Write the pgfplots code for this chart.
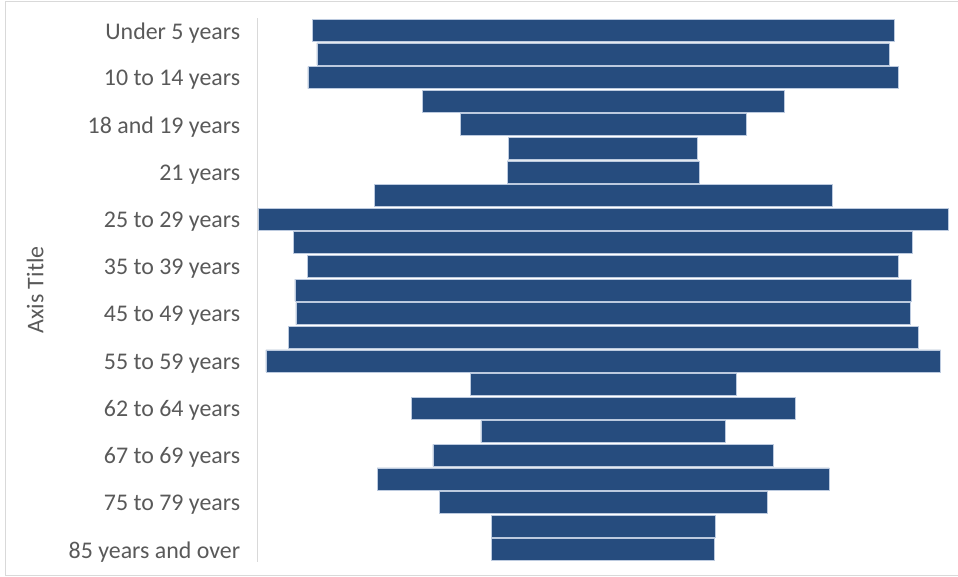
\documentclass[border=0pt]{standalone}
\usepackage{fontspec}
\setmainfont{Carlito}
\usepackage{pgfplots}
\pgfplotsset{compat=1.18}
\usepackage{pgfplotstable}

\definecolor{barblue}{HTML}{264C7E}
\definecolor{baredge}{HTML}{BCCADF}
\definecolor{labelgray}{HTML}{595959}
\definecolor{axisgray}{HTML}{D9D9D9}
\definecolor{framegray}{HTML}{D9D9D9}

% population by age group (millions); each bar is centred in the plot
\pgfplotstableread{
idx size
1  19.39
2  19.09
3  19.69
4  12.05
5  9.51
6  6.30
7  6.40
8  15.28
9  22.99
10 20.63
11 19.70
12 20.55
13 20.49
14 21.00
15 22.49
16 8.85
17 12.78
18 8.15
19 11.35
20 15.07
21 10.91
22 7.45
23 7.43
}\agedata

\newcommand{\fullspan}{23.06}
\newcommand{\labelfont}{\fontsize{23.9}{28}\selectfont}

\begin{document}
\begin{tikzpicture}
\useasboundingbox (0pt,0pt) rectangle (958pt,577pt);
\draw[framegray, line width=1pt] (958pt,575.3pt) -- (5.3pt,575.3pt) -- (5.3pt,1.3pt) -- (958pt,1.3pt);
\begin{axis}[
  at={(257.3pt,15.5pt)}, anchor=south west,
  scale only axis, width=691.8pt, height=543pt,
  xmin=0, xmax=\fullspan, ymin=0.5, ymax=23.5, y dir=reverse,
  hide x axis,
  axis y line*=left,
  y axis line style={axisgray, line width=1.3pt, -},
  ytick={1,3,...,23},
  yticklabels={Under 5 years, 10 to 14 years, 18 and 19 years, 21 years,
    25 to 29 years, 35 to 39 years, 45 to 49 years, 55 to 59 years,
    62 to 64 years, 67 to 69 years, 75 to 79 years, 85 years and over},
  major tick length=0pt,
  yticklabel style={font=\labelfont, text=labelgray, inner sep=0pt,
    xshift=-17pt, yshift=-2.5pt},
  ylabel={Axis Title},
  ylabel style={at={(axis description cs:-0.3093,0.5)}, anchor=base,
    font=\labelfont, text=labelgray},
  xbar stacked, bar width=22pt,
  clip=false,
]
% invisible spacer pushes each bar to the middle
\addplot[draw=none, fill=none] table[x expr=(\fullspan-\thisrow{size})/2, y=idx] {\agedata};
\addplot[fill=barblue, draw=baredge, line width=0.6pt] table[x=size, y=idx] {\agedata};
\end{axis}
\end{tikzpicture}
\end{document}
